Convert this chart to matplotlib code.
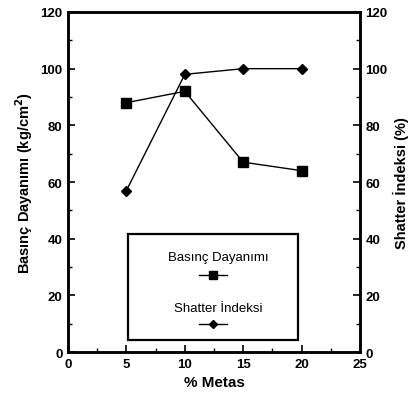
import matplotlib
matplotlib.use("Agg")
import matplotlib.pyplot as plt
from matplotlib.lines import Line2D
from matplotlib.patches import Rectangle

plt.rcParams['font.family'] = ['Liberation Sans', 'DejaVu Sans']
plt.rcParams['font.weight'] = 'bold'

metas = [5, 10, 15, 20]
basinc = [88, 92, 67, 64]
shatter = [57, 98, 100, 100]
xticks = [0, 5, 10, 15, 20, 25]
yticks = [0, 20, 40, 60, 80, 100, 120]

fig = plt.figure(figsize=(4.10, 4.06), dpi=100)
ax = fig.add_axes([0.166, 0.1305, 0.712, 0.8375])
ax2 = ax.twinx()

ax.plot(metas, basinc, color='black', lw=1.0, marker='s', ms=7, mfc='black', zorder=3)
ax2.plot(metas, shatter, color='black', lw=1.0, marker='D', ms=5, mfc='black', zorder=3)

for a in (ax, ax2):
    a.set_ylim(0, 120)
    a.set_yticks(yticks)
    a.set_yticks(range(10, 120, 20), minor=True)
    a.tick_params(direction='in', length=5, width=1.2, labelsize=9.5, pad=4)
    a.tick_params(which='minor', direction='in', length=3, width=1.0)
    for s in a.spines.values():
        s.set_linewidth(1.8)
ax.set_xlim(0, 25)
ax.set_xticks(xticks)
ax.set_xticks([2.5, 7.5, 12.5, 17.5, 22.5], minor=True)

ax.set_ylabel('Basınç Dayanımı (kg/cm$^2$)', fontsize=10.5, fontweight='bold', labelpad=4)
ax2.set_ylabel('Shatter İndeksi (%)', fontsize=10.5, fontweight='bold', labelpad=4)
ax.set_xlabel('% Metas', fontsize=11, fontweight='bold', labelpad=4)

# legend box drawn manually (text above marker sample)
ax.add_patch(Rectangle((0.205, 0.035), 0.583, 0.312, transform=ax.transAxes,
                       fill=True, facecolor='white', edgecolor='black', lw=1.6, zorder=4))
ax.text(0.514, 0.279, 'Basınç Dayanımı', transform=ax.transAxes, ha='center', va='center',
        fontsize=9.5, fontweight='normal', zorder=5)
ax.add_line(Line2D([0.45, 0.545], [0.226, 0.226], transform=ax.transAxes, color='black',
                   lw=1.0, marker='None', zorder=5))
ax.plot([0.497], [0.226], transform=ax.transAxes, marker='s', ms=6, color='black', zorder=6, clip_on=False)
ax.text(0.514, 0.129, 'Shatter İndeksi', transform=ax.transAxes, ha='center', va='center',
        fontsize=9.5, fontweight='normal', zorder=5)
ax.add_line(Line2D([0.45, 0.545], [0.082, 0.082], transform=ax.transAxes, color='black',
                   lw=1.0, marker='None', zorder=5))
ax.plot([0.497], [0.082], transform=ax.transAxes, marker='D', ms=4, color='black', zorder=6, clip_on=False)

fig.savefig('out.png', dpi=100)
